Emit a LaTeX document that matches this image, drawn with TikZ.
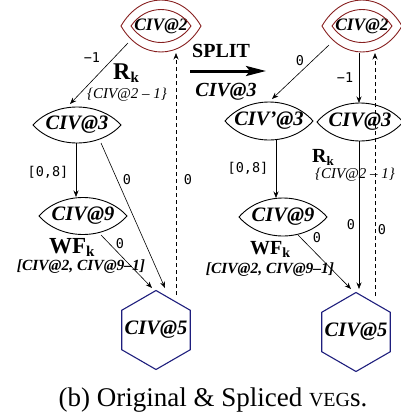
\documentclass[tikz,border=0pt]{standalone}
\usepackage{fontspec}
\setmainfont{Liberation Serif}
\newfontfamily\monof{DejaVu Sans Mono}
\usetikzlibrary{arrows.meta,calc}
\definecolor{lensred}{RGB}{135,32,32}
\definecolor{hexblue}{RGB}{30,30,125}
\newcommand\lensdraw[4]{%
  \draw[#4] ($(#1)+(-#2,0)$) .. controls ($(#1)+({-0.5*#2},{-1.333*#3})$) and ($(#1)+({0.5*#2},{-1.333*#3})$) .. ($(#1)+(#2,0)$)
    .. controls ($(#1)+({0.5*#2},{1.333*#3})$) and ($(#1)+({-0.5*#2},{1.333*#3})$) .. cycle;}
\newcommand\hexdraw[2]{%
  \draw[hexline] ($(#1)+(90:#2)$) -- ($(#1)+(150:#2)$) -- ($(#1)+(210:#2)$) -- ($(#1)+(270:#2)$) -- ($(#1)+(330:#2)$) -- ($(#1)+(30:#2)$) -- cycle;}
\tikzset{
  lensline/.style={line width=0.9pt, black},
  redline/.style={line width=0.9pt, lensred},
  hexline/.style={line width=1.1pt, hexblue},
  t2/.style={inner sep=0, font={\fontsize{17.5}{17.5}\selectfont\bfseries\itshape}},
  tn/.style={inner sep=0, font={\fontsize{20.5}{20.5}\selectfont\bfseries\itshape}},
  edge/.style={line width=0.6pt, -{Stealth[length=6.5pt,width=5pt]}},
  dedge/.style={edge, dash pattern=on 4pt off 3pt},
  lab/.style={inner sep=0, font={\fontsize{13.5}{13.5}\selectfont\monof}},
  setl/.style={inner sep=0, font={\fontsize{15}{15}\selectfont\itshape}},
  setb/.style={inner sep=0, font={\fontsize{15.5}{15.5}\selectfont\bfseries\itshape}},
  bigl/.style={inner sep=0, anchor=base west},
}
\begin{document}
\begin{tikzpicture}[x=1pt,y=-1pt]
\useasboundingbox (0,0) rectangle (400,413);

% ---------- left graph ----------
\node[t2] (L2) at (161,26) {CIV@2};
\lensdraw{L2}{40}{26}{redline}
\lensdraw{L2}{30}{16.5}{redline}
\node[tn] (L3) at (77,125) {CIV@3};
\lensdraw{L3}{44}{18}{lensline}
\node[tn] (L9) at (83,216) {CIV@9};
\lensdraw{L9}{44}{18.5}{lensline}
\node[tn] (L5) at (156,330) {CIV@5};
\hexdraw{L5}{39.5}

\draw[edge] ([shift={(-33,17)}]L2.center) -- ([shift={(-7,-21)}]L3.center);
\draw[edge] ([shift={(-1,18)}]L3.center) -- ([shift={(-7,-19)}]L9.center);
\draw[edge] ([shift={(24,18)}]L3.center) -- ([shift={(9,-42)}]L5.center);
\draw[edge] ([shift={(18,19)}]L9.center) -- ([shift={(-4,-42)}]L5.center);
\draw[dedge] ([shift={(20,-35)}]L5.center) -- ([shift={(15,27)}]L2.center);

\node[lab] (la1) at (92,58) {−1};
\node[lab] (la2) at (48,172) {[0,8]};
\node[lab] (la3) at (127,180) {0};
\node[lab] (la4) at (120,244) {0};
\node[lab] (la5) at (188,180) {0};

\node[bigl] (RkL) at (113,79) {\fontsize{24}{24}\selectfont\bfseries R\raisebox{-3pt}{\fontsize{15}{15}\selectfont k}};
\node[setl] (setL) at (127,95) {\{CIV@2 – 1\}};
\node[bigl] (WFL) at (49,253) {\fontsize{23}{23}\selectfont\bfseries WF\raisebox{-3pt}{\fontsize{15}{15}\selectfont k}};
\node[setb] (intL) at (81,267) {[CIV@2, CIV@9–1]};

% ---------- split arrow ----------
\node[bigl] (split) at (192,57) {\fontsize{20}{20}\selectfont\bfseries SPLIT};
\coordinate (sa) at (190,71);
\coordinate (sb) at (266,71);
\draw[line width=3pt, -{Stealth[length=20pt,width=10pt,inset=4pt]}] (sa) -- (sb);
\node[tn, font={\fontsize{20}{20}\selectfont\bfseries\itshape}] (splitc) at (226,92) {CIV@3};

% ---------- right graph ----------
\node[t2] (R2) at (362,26) {CIV@2};
\lensdraw{R2}{40}{26}{redline}
\lensdraw{R2}{30}{16.5}{redline}
\node[tn] (R3p) at (269,121) {CIV’@3};
\lensdraw{R3p}{44}{19}{lensline}
\node[tn] (R3) at (360,122) {CIV@3};
\lensdraw{R3}{43}{19}{lensline}
\node[tn] (R9) at (283,217) {CIV@9};
\lensdraw{R9}{44}{19}{lensline}
\node[tn] (R5) at (356,332) {CIV@5};
\hexdraw{R5}{39.5}

\draw[edge] ([shift={(-33,19)}]R2.center) -- ([shift={(3,-22)}]R3p.center);
\draw[edge] ([shift={(-3,27)}]R2.center) -- ([shift={(-1,-19)}]R3.center);
\draw[dedge] ([shift={(19,-36)}]R5.center) -- ([shift={(13,27)}]R2.center);
\draw[edge] ([shift={(7,19)}]R3p.center) -- ([shift={(-7,-19)}]R9.center);
\draw[edge] ([shift={(-1,19)}]R3.center) -- ([shift={(3,-43)}]R5.center);
\draw[edge] ([shift={(15,18)}]R9.center) -- ([shift={(-5,-43)}]R5.center);

\node[lab] (ra1) at (300,61) {0};
\node[lab] (ra2) at (345,78) {−1};
\node[lab] (ra3) at (382,230) {0};
\node[lab] (ra4) at (248,168) {[0,8]};
\node[lab] (ra5) at (351,225) {0};
\node[lab] (ra6) at (317,238) {0};

\node[bigl] (RkR) at (312,162) {\fontsize{20}{20}\selectfont\bfseries R\raisebox{-3pt}{\fontsize{13}{13}\selectfont k}};
\node[setl] (setR) at (355,175) {\{CIV@2 – 1\}};
\node[bigl] (WFR) at (250,254) {\fontsize{20}{20}\selectfont\bfseries WF\raisebox{-3pt}{\fontsize{14}{14}\selectfont k}};
\node[setb] (intR) at (270,270) {[CIV@2, CIV@9–1]};

% ---------- caption ----------
\node[inner sep=0, anchor=base] (cap) at (213,406) {\fontsize{27}{27}\selectfont (b) Original \& Spliced {\fontsize{20}{20}\selectfont VEG}s.};
\end{tikzpicture}
\end{document}
